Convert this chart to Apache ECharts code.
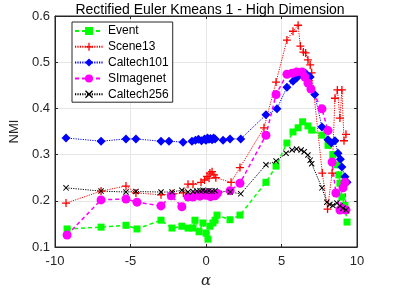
<!DOCTYPE html>
<html><head><meta charset="utf-8">
<script src="https://cdn.jsdelivr.net/npm/echarts@6/dist/echarts.min.js"></script>
<style>html,body{margin:0;padding:0;background:#fff}#c{width:409px;height:303px}</style>
</head><body><div id="c"></div>
<script>
const titleText = 'Rectified Euler Kmeans 1 - High Dimension';
const xTicks = [-10, -5, 0, 5, 10];
const yTicks = [0.1, 0.2, 0.3, 0.4, 0.5, 0.6];
const seriesNames = ['Event', 'Scene13', 'Caltech101', 'SImagenet', 'Caltech256'];

const eventData = [[-9.2,0.139],[-6.95,0.143],[-5.3,0.147],[-4.57,0.139],[-2.98,0.158],[-2.25,0.141],[-1.6,0.145],[-1.19,0.141],[-0.86,0.141],[-0.73,0.158],[-0.46,0.133],[-0.2,0.152],[0,0.13],[0.13,0.117],[0.26,0.145],[0.46,0.152],[0.6,0.158],[0.73,0.169],[1.59,0.159],[2.25,0.169],[3.97,0.24],[4.64,0.275],[5.36,0.325],[5.76,0.349],[6.1,0.358],[6.4,0.371],[6.75,0.362],[7.0,0.353],[7.68,0.342],[8.08,0.32],[8.4,0.3],[8.67,0.278],[8.8,0.256],[8.87,0.238],[9.0,0.208],[9.2,0.19],[9.34,0.154]];

const scene13Data = [[-9.27,0.195],[-6.95,0.221],[-5.3,0.232],[-4.64,0.217],[-2.98,0.213],[-2.2,0.215],[-1.5,0.217],[-1.19,0.236],[-0.86,0.236],[-0.33,0.24],[-0.1,0.245],[0.07,0.253],[0.2,0.249],[0.26,0.26],[0.4,0.263],[0.53,0.256],[0.65,0.25],[1.66,0.24],[2.25,0.272],[3.84,0.358],[4.64,0.457],[5.36,0.548],[5.76,0.567],[6.1,0.58],[6.25,0.535],[6.45,0.522],[6.6,0.52],[6.75,0.505],[6.9,0.494],[7.0,0.477],[7.7,0.26],[8.05,0.182],[8.35,0.26],[8.54,0.422],[8.7,0.44],[8.87,0.379],[9.0,0.44],[9.14,0.33],[9.27,0.344]];

const caltech101Data = [[-9.27,0.336],[-6.95,0.329],[-5.3,0.334],[-4.64,0.334],[-2.98,0.329],[-2.45,0.329],[-1.52,0.327],[-0.93,0.329],[-0.7,0.331],[-0.5,0.333],[-0.3,0.33],[-0.1,0.334],[0,0.331],[0.1,0.336],[0.2,0.333],[0.3,0.335],[0.4,0.332],[0.5,0.336],[0.6,0.334],[1.13,0.331],[1.59,0.334],[2.3,0.334],[3.97,0.386],[4.7,0.399],[5.36,0.446],[5.76,0.459],[6.0,0.466],[6.3,0.474],[6.6,0.476],[6.9,0.468],[7.2,0.43],[7.68,0.36],[8.08,0.332],[8.3,0.325],[8.54,0.33],[8.74,0.303],[8.9,0.29],[9.0,0.273],[9.2,0.252],[9.34,0.24]];

const simagenetData = [[-9.2,0.126],[-6.95,0.202],[-5.3,0.204],[-4.57,0.197],[-2.98,0.189],[-2.3,0.211],[-1.6,0.187],[-1.19,0.208],[-0.86,0.208],[-0.6,0.213],[-0.4,0.21],[-0.2,0.215],[0,0.212],[0.15,0.217],[0.3,0.209],[0.45,0.214],[0.6,0.211],[0.75,0.216],[1.6,0.222],[2.25,0.238],[3.97,0.342],[4.64,0.43],[5.36,0.474],[5.7,0.476],[6.0,0.479],[6.36,0.479],[6.55,0.468],[6.75,0.455],[6.95,0.442],[7.68,0.399],[8.08,0.352],[8.35,0.284],[8.6,0.217],[8.87,0.18],[9.0,0.184],[9.07,0.228],[9.2,0.24],[9.27,0.18]];

const caltech256Data = [[-9.27,0.228],[-6.95,0.221],[-5.3,0.219],[-4.64,0.22],[-2.98,0.219],[-2.25,0.219],[-1.6,0.223],[-1.19,0.219],[-0.86,0.22],[-0.6,0.221],[-0.4,0.222],[-0.2,0.223],[0,0.221],[0.2,0.222],[0.4,0.221],[0.6,0.222],[1.6,0.219],[2.3,0.215],[3.97,0.278],[4.64,0.286],[5.3,0.303],[5.7,0.31],[6.0,0.312],[6.3,0.31],[6.5,0.306],[6.75,0.299],[6.9,0.288],[7.0,0.28],[7.68,0.228],[8.0,0.197],[8.2,0.192],[8.4,0.19],[8.67,0.195],[8.87,0.189],[9.07,0.184],[9.27,0.18]];

const PLUS = 'path://M0,4.2H10V5.8H0Z M4.2,0H5.8V10H4.2Z';
const CROSS = 'path://M0,1.2L1.2,0L10,8.8L8.8,10Z M8.8,0L10,1.2L1.2,10L0,8.8Z';
const font = 'Liberation Sans, Arial, Helvetica, sans-serif';

function mk(name, data, color, symbol, size, type, width) {
  return {
    name, type: 'line', data, symbol, symbolSize: size,
    itemStyle: { color },
    lineStyle: { color, type, width },
    emphasis: { disabled: true },
    animation: false, z: 3
  };
}

const chart = echarts.init(document.getElementById('c'), null, { renderer: 'canvas' });
const axisCommon = {
  type: 'value',
  axisLine: { show: true, onZero: false, lineStyle: { color: '#262626', width: 1 } },
  axisTick: { show: true, inside: true, length: 3, lineStyle: { color: '#262626' } },
  splitLine: { show: true, lineStyle: { color: '#e6e6e6', width: 1 } },
  axisLabel: { color: '#262626', fontSize: 13, fontFamily: font }
};
chart.setOption({
  backgroundColor: '#fff',
  animation: false,
  title: {
    text: titleText, left: 205, textAlign: 'center', top: -2,
    textStyle: { fontSize: 14, fontWeight: 'normal', color: '#000', fontFamily: font }
  },
  grid: { left: 55, right: 52, top: 16, bottom: 56, show: true, borderColor: '#262626', borderWidth: 1, backgroundColor: 'transparent' },
  legend: {
    data: seriesNames, orient: 'vertical', left: 72, top: 22,
    itemWidth: 28, itemHeight: 10, itemGap: 3.8,
    padding: [3, 4, 2, 2],
    backgroundColor: '#fff', borderColor: '#262626', borderWidth: 1,
    textStyle: { fontSize: 12, color: '#000', fontFamily: font },
    z: 10
  },
  xAxis: [
    Object.assign({}, axisCommon, {
      min: xTicks[0], max: xTicks[xTicks.length - 1], interval: 5,
      name: 'α', nameLocation: 'middle', nameGap: 27,
      nameTextStyle: { fontSize: 15, fontStyle: 'italic', color: '#262626', fontFamily: 'DejaVu Serif, serif' },
      axisLabel: Object.assign({}, axisCommon.axisLabel, { margin: 8 })
    }),
    Object.assign({}, axisCommon, {
      position: 'top', min: xTicks[0], max: xTicks[xTicks.length - 1], interval: 5,
      axisLabel: { show: false }, splitLine: { show: false }
    })
  ],
  yAxis: [
    Object.assign({}, axisCommon, {
      min: yTicks[0], max: yTicks[yTicks.length - 1], interval: 0.1,
      name: 'NMI', nameLocation: 'middle', nameGap: 24,
      nameTextStyle: { fontSize: 13, color: '#262626', fontFamily: font },
      axisLabel: Object.assign({}, axisCommon.axisLabel, { margin: 5, formatter: v => (Math.round(v * 10) / 10).toFixed(1) })
    }),
    Object.assign({}, axisCommon, {
      position: 'right', min: yTicks[0], max: yTicks[yTicks.length - 1], interval: 0.1,
      axisLabel: { show: false }, splitLine: { show: false }
    })
  ],
  series: [
    mk(seriesNames[0], eventData, '#00ff00', 'rect', 7, [4, 3], 1.5),
    mk(seriesNames[1], scene13Data, '#ff0000', PLUS, 8, [1.2, 1.2], 1),
    mk(seriesNames[2], caltech101Data, '#0000ff', 'diamond', 9, [1.2, 1.2], 1),
    mk(seriesNames[3], simagenetData, '#ff00ff', 'circle', 9, [4, 3], 1.5),
    mk(seriesNames[4], caltech256Data, '#000000', CROSS, 6, [1.2, 1.2], 1)
  ]
});
</script></body></html>
